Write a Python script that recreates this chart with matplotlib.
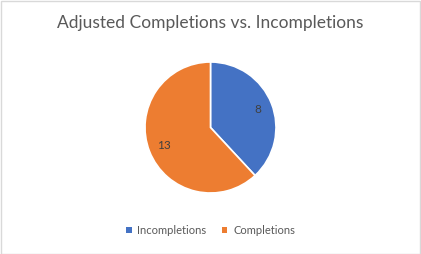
import matplotlib.pyplot as plt
from matplotlib.patches import Rectangle

# Chart data
categories = ['Incompletions', 'Completions']
values = [8, 13]
colors = ['#4472C4', '#ED7D31']
title = 'Adjusted Completions vs. Incompletions'

W, H = 421, 254
fig = plt.figure(figsize=(W / 100, H / 100), dpi=100)
plt.rcParams['font.family'] = ['Lato', 'DejaVu Sans']

# Light grey chart border
fig.patches.append(Rectangle((0.5 / W, 0.5 / H), 1 - 1.5 / W, 1 - 1.5 / H,
                             transform=fig.transFigure, fill=False,
                             edgecolor='#D9D9D9', linewidth=1))

# Pie centred at (210.5, 127.5) px with radius ~65.5 px
cx, cy, r = 210.5, 127.5, 65.5
ax = fig.add_axes([(cx - r) / W, (H - cy - r) / H, 2 * r / W, 2 * r / H])
total = sum(values)
wedges, texts, autotexts = ax.pie(
    values, colors=colors, startangle=90, counterclock=False,
    autopct=lambda p: '%d' % round(p * total / 100), pctdistance=0.77,
    wedgeprops=dict(edgecolor='white', linewidth=1.2),
    textprops=dict(color='#404040', fontsize=8.5))
ax.set_xlim(-1, 1)
ax.set_ylim(-1, 1)
ax.set_aspect('equal')

fig.text(0.5, 1 - 23 / H, title, ha='center', va='center',
         fontsize=12.5, color='#595959')

leg = fig.legend(wedges, categories, loc='center', ncol=2,
                 bbox_to_anchor=(0.5, 1 - 230.5 / H), frameon=False,
                 fontsize=8, handlelength=0.5, handleheight=0.5,
                 handletextpad=0.5, columnspacing=1.4, labelcolor='#595959')
for h in leg.legend_handles:
    h.set_edgecolor('none')

fig.savefig('out.png', dpi=100)
